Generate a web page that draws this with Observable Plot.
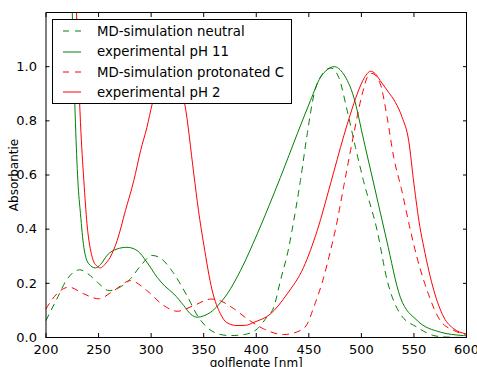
<!DOCTYPE html>
<html><head><meta charset="utf-8">
<script src="https://cdn.jsdelivr.net/npm/d3@7"></script>
<script src="https://cdn.jsdelivr.net/npm/@observablehq/plot@0.6"></script>
<style>
body{margin:0;background:#fff;}
#wrap{position:relative;width:477px;height:367px;overflow:hidden;}
#legend{position:absolute;left:52px;top:19px;width:238px;height:83px;border:1px solid #000;background:#fff;font:13.3px "DejaVu Sans";color:#000;}
#legend .row{position:absolute;left:9px;height:16px;display:flex;align-items:center;white-space:nowrap;}
#legend svg{width:20px;height:4px;margin-right:15px;}
</style></head><body><div id="wrap"></div>
<script>
// MD-simulation neutral (green dashed)
const mdNeutralX = [200,210,220,232,240,250,260,270,280,290,301,310,320,334,345,353,365,375,390,401,410,416.7,423,431,434,442,448.5,455,463,471,478.5,486.5,494.4,502,515,524.6,537,553,569,580,600];
const mdNeutralY = [0.063,0.14,0.215,0.25,0.235,0.2,0.173,0.185,0.215,0.265,0.303,0.29,0.245,0.155,0.075,0.038,0.012,0.007,0.012,0.032,0.075,0.112,0.21,0.333,0.395,0.579,0.752,0.899,0.973,0.995,0.96,0.838,0.702,0.579,0.395,0.21,0.087,0.038,0.007,0.002,0.0];
// experimental pH 11 (green solid)
const expPH11X = [222,225,228,230.3,232.8,236,240.7,247,252,258,267.7,277,286.7,296,305.8,313,321.6,331,338,343.8,350,356.5,364,372.4,385,401,416.7,423,439,451.6,461,468,474,483,492.8,502.3,511.8,524,537,553,575,597,600];
const expPH11Y = [1.6,1.2,0.793,0.579,0.457,0.333,0.272,0.257,0.27,0.303,0.327,0.333,0.321,0.278,0.222,0.19,0.161,0.118,0.085,0.075,0.08,0.093,0.12,0.161,0.247,0.383,0.53,0.591,0.752,0.875,0.96,0.99,1.0,0.973,0.887,0.727,0.567,0.36,0.149,0.063,0.02,0.007,0.006];
// MD-simulation protonated C (red dashed)
const mdProtX = [200,210,221.7,236,250,264.5,280.4,296,312,324.8,340.6,357,366,378,391.4,407,426,442,448.5,454.7,464,470.6,475.4,483.3,492.8,500.8,507,510,518,524.5,530.8,538,546.7,550,562.6,575,588,600];
const mdProtY = [0.106,0.16,0.186,0.161,0.143,0.173,0.21,0.173,0.118,0.097,0.118,0.142,0.135,0.108,0.069,0.032,0.011,0.026,0.05,0.112,0.22,0.32,0.4,0.56,0.752,0.899,0.97,0.975,0.936,0.813,0.665,0.55,0.395,0.34,0.173,0.063,0.026,0.01];
// experimental pH 2 (red solid)
const expPH2X = [226,229,232.8,236,239,244,248,251.8,256,261,267.7,275.6,283.5,290,296,301,308,316,324,332,340.6,345,350,358,366,372,381.8,390,397.7,413.5,429.4,445,458,470.6,483.3,489.6,496,503,508.7,513,518,525,532.4,538.8,545,550,555.6,559.4,569,578.4,588,599,600];
const expPH2Y = [1.6,1.2,0.793,0.579,0.42,0.296,0.265,0.257,0.27,0.296,0.358,0.469,0.579,0.69,0.776,0.862,0.95,0.99,0.96,0.862,0.604,0.47,0.345,0.175,0.087,0.055,0.044,0.045,0.056,0.087,0.161,0.259,0.395,0.567,0.745,0.825,0.899,0.96,0.983,0.975,0.948,0.91,0.868,0.813,0.727,0.567,0.41,0.333,0.173,0.075,0.032,0.014,0.013];

const seriesNames = ["MD-simulation neutral","experimental pH 11","MD-simulation protonated C","experimental pH 2"];
const seriesColors = ["#008000","#008000","#ff0000","#ff0000"];
const seriesDashed = [true,false,true,false];
const xTicks = [200,250,300,350,400,450,500,550,600];
const yTicks = [0.0,0.2,0.4,0.6,0.8,1.0];
const xLabel = "golflengte [nm]";
const yLabel = "Absorbantie";

const toRows = (xs, ys) => xs.map((x,i)=>({x, y: ys[i]}));
const seriesData = [toRows(mdNeutralX,mdNeutralY), toRows(expPH11X,expPH11Y), toRows(mdProtX,mdProtY), toRows(expPH2X,expPH2Y)];

const lines = seriesData.map((d,i)=>Plot.line(d,{x:"x",y:"y",stroke:seriesColors[i],strokeWidth:1,strokeDasharray:seriesDashed[i]?"6,6":null,curve:"monotone-x",clip:true}));

const chart = Plot.plot({
  width:477, height:367,
  marginLeft:45.5, marginRight:11, marginTop:12, marginBottom:30,
  style:{fontFamily:"DejaVu Sans", fontSize:"13px", color:"#000", background:"#fff"},
  x:{domain:[200,600]},
  y:{domain:[0,1.2]},
  marks:[
    ...lines,
    Plot.frame({stroke:"#000", strokeWidth:1}),
    Plot.axisX(xTicks,{anchor:"bottom", tickSize:-4, tickFormat:()=>"", label:null}),
    Plot.axisX(xTicks,{anchor:"top", tickSize:-4, tickFormat:()=>"", label:null}),
    Plot.axisY(yTicks,{anchor:"left", tickSize:-4, tickFormat:()=>"", label:null}),
    Plot.axisY(yTicks,{anchor:"right", tickSize:-4, tickFormat:()=>"", label:null}),
    Plot.axisX(xTicks,{anchor:"bottom", tickSize:0, tickPadding:7, tickFormat:d3.format("d"), label:null, fontSize:13}),
    Plot.axisY(yTicks,{anchor:"left", tickSize:0, tickPadding:9, tickFormat:d3.format(".1f"), label:null, fontSize:13}),
    Plot.text([xLabel],{frameAnchor:"bottom", dy:29, text:d=>d, lineAnchor:"bottom", fontSize:12}),
    Plot.text([yLabel],{frameAnchor:"left", dx:-32, text:d=>d, rotate:-90, textAnchor:"middle", lineAnchor:"middle", fontSize:12})
  ]
});
const wrap = document.getElementById("wrap");
wrap.appendChild(chart);

const legend = document.createElement("div");
legend.id = "legend";
const rowTops = [3, 23.5, 44, 64];
seriesNames.forEach((name,i)=>{
  const row = document.createElement("div");
  row.className = "row";
  row.style.top = rowTops[i] + "px";
  row.innerHTML = `<svg viewBox="0 0 20 4"><line x1="1" x2="19" y1="2" y2="2" stroke="${seriesColors[i]}" stroke-width="1" ${seriesDashed[i]?'stroke-dasharray="6,6"':''}/></svg><span>${name}</span>`;
  legend.appendChild(row);
});
wrap.appendChild(legend);
</script>
</body></html>
